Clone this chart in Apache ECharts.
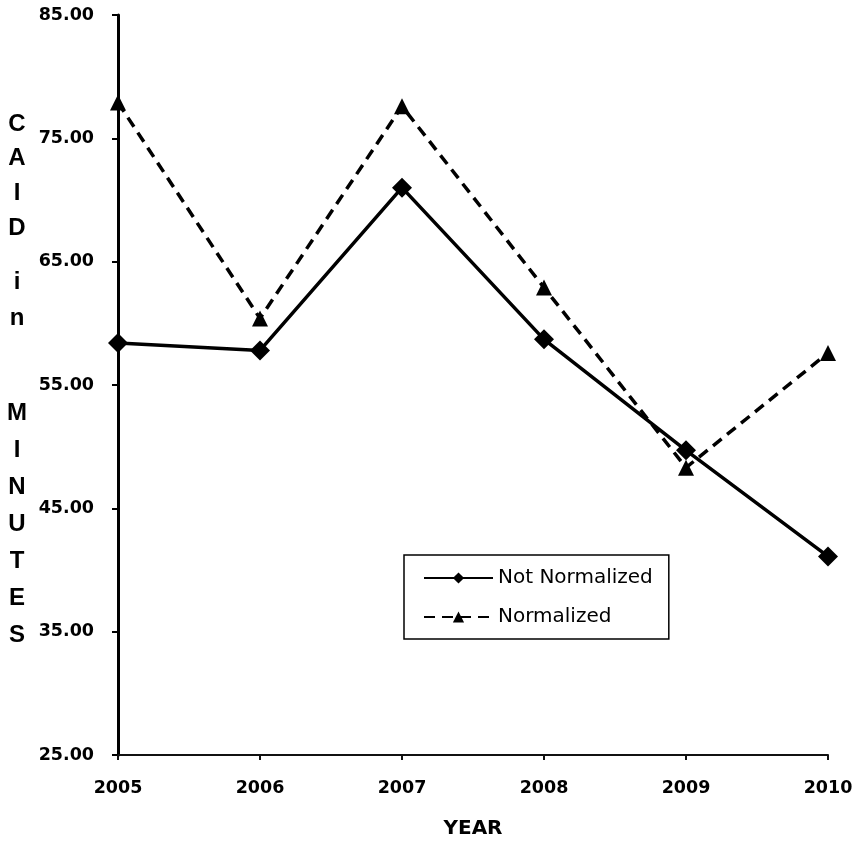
<!DOCTYPE html>
<html>
<head>
<meta charset="utf-8">
<title>CAID in Minutes by Year</title>
<script src="https://cdn.jsdelivr.net/npm/echarts@6/dist/echarts.min.js"></script>
<style>
  html, body { margin: 0; padding: 0; background: #fff; }
  #chart { width: 852px; height: 841px; }
</style>
</head>
<body>
<div id="chart"></div>
<script>
// Years on the category axis
const years = ['2005', '2006', '2007', '2008', '2009', '2010'];

// CAID (minutes) per year
const notNormalized = [58.4, 57.8, 71.0, 58.7, 49.7, 41.1];
const normalized = [77.9, 60.4, 77.6, 62.9, 48.3, 57.6];

// Value axis range and step
const yMin = 25;
const yMax = 85;
const yStep = 10;

// Vertical, letter-stacked title of the value axis, in word groups
const yTitleGroups = [['C', 'A', 'I', 'D'], ['i', 'n'], ['M', 'I', 'N', 'U', 'T', 'E', 'S']];
// Where each group starts (centre of its first letter) and its line spacing
const yTitleGroupLayout = [{ top: 124, step: 34.7 }, { top: 282, step: 36 }, { top: 413, step: 37 }];

const chart = echarts.init(document.getElementById('chart'), null, { renderer: 'canvas' });

const tickFont = {
  color: '#000',
  fontFamily: 'DejaVu Sans',
  fontWeight: 'bold',
  fontSize: 17.5
};

// One centred text element per letter of the stacked axis title
const titleLetters = [];
yTitleGroups.forEach((group, gi) => {
  const lay = yTitleGroupLayout[gi];
  group.forEach((ch, li) => {
    titleLetters.push({
      type: 'text',
      x: 17,
      y: lay.top + li * lay.step,
      silent: true,
      style: {
        text: ch,
        fill: '#000',
        font: 'bold 24px "Liberation Sans", Arial, sans-serif',
        align: 'center',
        verticalAlign: 'middle'
      }
    });
  });
});

chart.setOption({
  backgroundColor: '#fff',
  animation: false,
  grid: { left: 118, right: 24, top: 15, bottom: 86, containLabel: false, outerBoundsMode: 'none' },
  xAxis: {
    type: 'category',
    data: years,
    boundaryGap: false,
    name: 'YEAR',
    nameLocation: 'middle',
    nameGap: 64,
    nameTextStyle: { color: '#000', fontFamily: 'DejaVu Sans', fontWeight: 'bold', fontSize: 20 },
    axisLine: { lineStyle: { color: '#111', width: 2 } },
    axisTick: { show: true, inside: false, length: 5, alignWithLabel: true, lineStyle: { color: '#111', width: 2 } },
    axisLabel: Object.assign({ margin: 24 }, tickFont),
    splitLine: { show: false }
  },
  yAxis: {
    type: 'value',
    min: yMin,
    max: yMax,
    interval: yStep,
    axisLine: { show: true, lineStyle: { color: '#000', width: 3 } },
    axisTick: { show: true, inside: false, length: 6, lineStyle: { color: '#000', width: 2 } },
    axisLabel: Object.assign({ margin: 24, formatter: v => v.toFixed(2) }, tickFont),
    splitLine: { show: false }
  },
  legend: {
    orient: 'vertical',
    left: 404,
    top: 555,
    padding: [13, 16, 12, 19],
    itemWidth: 69,
    itemHeight: 14,
    itemGap: 19,
    borderColor: '#000',
    borderWidth: 1.5,
    backgroundColor: '#fff',
    textStyle: { color: '#000', fontFamily: 'DejaVu Sans', fontSize: 20 },
    data: ['Not Normalized', 'Normalized']
  },
  series: [
    {
      name: 'Not Normalized',
      type: 'line',
      data: notNormalized,
      symbol: 'diamond',
      symbolSize: 20,
      itemStyle: { color: '#000' },
      lineStyle: { color: '#000', width: 3.5, type: 'solid' },
      z: 3
    },
    {
      name: 'Normalized',
      type: 'line',
      data: normalized,
      symbol: 'triangle',
      symbolSize: 16,
      itemStyle: { color: '#000' },
      lineStyle: { color: '#000', width: 3.5, type: [11, 7] },
      z: 2
    }
  ],
  graphic: titleLetters
});
</script>
</body>
</html>
